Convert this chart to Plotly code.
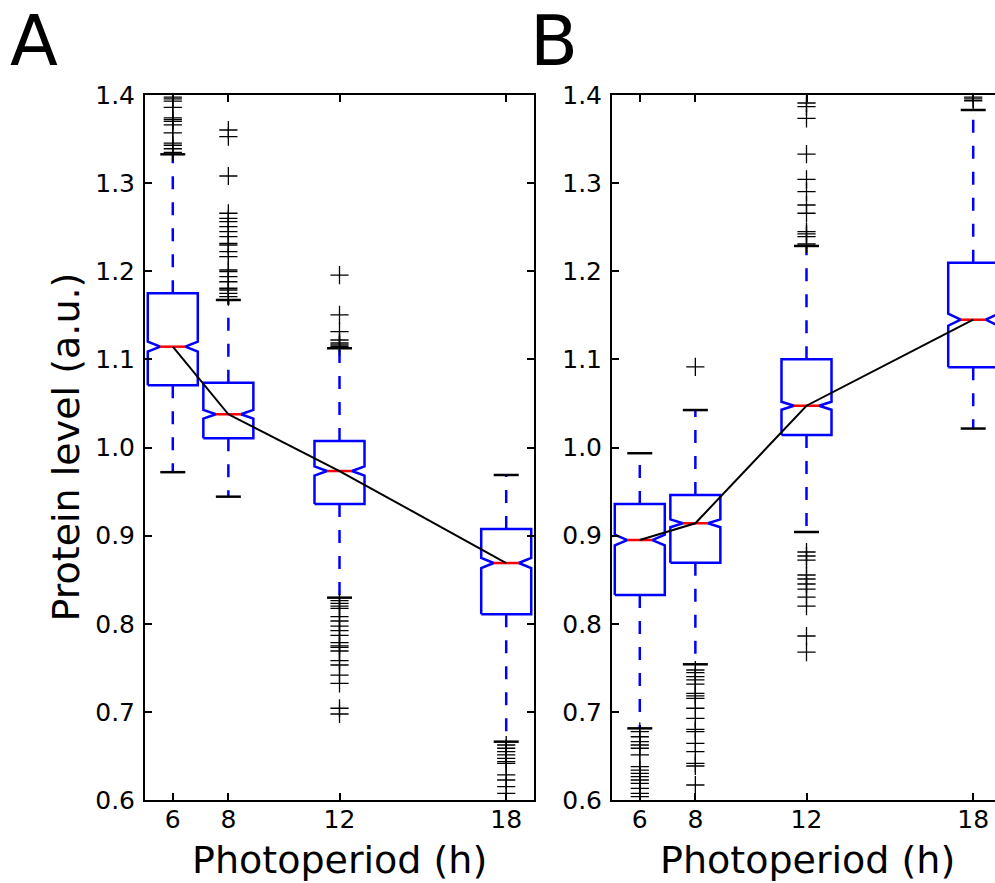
import plotly.graph_objects as go

# ---------------- data ----------------
positions = [6, 8, 12, 18]
tick_labels_x = ["6", "8", "12", "18"]
y_ticks = [0.6, 0.7, 0.8, 0.9, 1.0, 1.1, 1.2, 1.3, 1.4]

# Panel A
a_q1 = [1.0706, 1.0104, 0.9359, 0.8107]
a_median = [1.1144, 1.0377, 0.9733, 0.8689]
a_q3 = [1.1750, 1.0735, 1.0074, 0.9075]
a_whisker_low = [0.9720, 0.9442, 0.8296, 0.6662]
a_whisker_high = [1.3327, 1.1674, 1.1126, 0.9688]
a_notch = [0.0057, 0.0050, 0.0052, 0.0057]
a_fliers_6 = [1.3977, 1.3955, 1.3930, 1.3860, 1.3740, 1.3720, 1.3700, 1.3660, 1.3570,
              1.3455, 1.3430, 1.3390, 1.3350]
a_fliers_8 = [1.3603, 1.3527, 1.3081, 1.2658, 1.2601, 1.2562, 1.2506, 1.2449, 1.2392,
              1.2317, 1.2298, 1.2222, 1.2165, 1.2014, 1.1995, 1.1938, 1.1881, 1.1807,
              1.1787, 1.1750, 1.1711]
a_fliers_12 = [1.1957, 1.1504, 1.1314, 1.1220, 1.1186, 1.1163, 1.1144,
               0.8262, 0.8232, 0.8201, 0.8175, 0.8080, 0.8031, 0.7974, 0.7921, 0.7869,
               0.7785, 0.7748, 0.7733, 0.7691, 0.7581, 0.7532, 0.7418, 0.7324, 0.7041,
               0.6976]
a_fliers_18 = [0.6624, 0.6587, 0.6548, 0.6511, 0.6473, 0.6435, 0.6416, 0.6284, 0.6227,
               0.6151, 0.6076]

# Panel B
b_q1 = [0.8326, 0.8693, 1.0142, 1.0910]
b_median = [0.8950, 0.9140, 1.0474, 1.1450]
b_q3 = [0.9359, 0.9461, 1.1000, 1.2097]
b_whisker_low = [0.6813, 0.7540, 0.9041, 1.0215]
b_whisker_high = [0.9935, 1.0425, 1.2287, 1.3830]
b_notch = [0.0060, 0.0045, 0.0045, 0.0068]
b_fliers_6 = [0.6775, 0.6718, 0.6662, 0.6624, 0.6587, 0.6511, 0.6378, 0.6340, 0.6303,
              0.6265, 0.6227, 0.6189, 0.6133, 0.6076, 0.6038]
b_fliers_8 = [1.0914,
              0.7475, 0.7445, 0.7399, 0.7362, 0.7316, 0.7211, 0.7181, 0.7154, 0.7041,
              0.6927, 0.6802, 0.6775, 0.6643, 0.6548, 0.6416, 0.6386, 0.6170]
b_fliers_12 = [1.3909, 1.3867, 1.3735, 1.3330, 1.3043, 1.2903, 1.2752, 1.2658, 1.2449,
               1.2423, 1.2392, 1.2309,
               0.8814, 0.8769, 0.8723, 0.8553, 0.8508, 0.8451, 0.8394, 0.8303, 0.8201,
               0.7861, 0.7679]
b_fliers_18 = [1.3975, 1.3955, 1.3935]

BOX_WIDTH = 1.8
W, H = 995, 883
BLUE = "#0000FF"
RED = "#FF0000"
FONT = "DejaVu Sans"


def add_panel(fig, xa, ya, q1, med, q3, wlo, whi, notch, fliers):
    bx, by = [], []
    wx, wy = [], []
    cx, cy = [], []
    mx, my = [], []
    for p, a, m, b, lo, hi, n in zip(positions, q1, med, q3, wlo, whi, notch):
        l, r = p - BOX_WIDTH / 2, p + BOX_WIDTH / 2
        il, ir = p - BOX_WIDTH / 4, p + BOX_WIDTH / 4
        bx += [l, r, r, ir, r, r, l, l, il, l, l, None]
        by += [a, a, m - n, m, m + n, b, b, m + n, m, m - n, a, None]
        wx += [p, p, None, p, p, None]
        wy += [b, hi, None, a, lo, None]
        cx += [il, ir, None, il, ir, None]
        cy += [hi, hi, None, lo, lo, None]
        mx += [il, ir, None]
        my += [m, m, None]
    common = dict(xaxis=xa, yaxis=ya, showlegend=False, hoverinfo="skip")
    fig.add_trace(go.Scatter(x=wx, y=wy, mode="lines",
                             line=dict(color=BLUE, width=2.5, dash="13px,13px"), **common))
    fig.add_trace(go.Scatter(x=bx, y=by, mode="lines",
                             line=dict(color=BLUE, width=2.5), **common))
    fig.add_trace(go.Scatter(x=mx, y=my, mode="lines",
                             line=dict(color=RED, width=2.5), **common))
    fig.add_trace(go.Scatter(x=cx, y=cy, mode="lines",
                             line=dict(color="black", width=2.5), **common))
    fig.add_trace(go.Scatter(x=positions, y=med, mode="lines",
                             line=dict(color="black", width=2), **common))
    fx, fy = [], []
    for p, vals in zip(positions, fliers):
        fx += [p] * len(vals)
        fy += vals
    fig.add_trace(go.Scatter(x=fx, y=fy, mode="markers",
                             marker=dict(symbol="cross-thin", size=13,
                                         line=dict(color="black", width=1.3)),
                             **common))


fig = go.Figure()
add_panel(fig, "x", "y", a_q1, a_median, a_q3, a_whisker_low, a_whisker_high, a_notch,
          [a_fliers_6, a_fliers_8, a_fliers_12, a_fliers_18])
add_panel(fig, "x2", "y2", b_q1, b_median, b_q3, b_whisker_low, b_whisker_high, b_notch,
          [b_fliers_6, b_fliers_8, b_fliers_12, b_fliers_18])

ydom = [(H - 800) / H, (H - 95) / H]
axis_common = dict(showline=True, linecolor="black", linewidth=2, ticks="inside",
                   ticklen=7, tickwidth=1.5, tickcolor="black", showgrid=False,
                   zeroline=False, automargin=False,
                   tickfont=dict(family=FONT, size=25, color="black"))
xcommon = dict(axis_common, tickvals=positions, ticktext=tick_labels_x, ticklabelstandoff=-4)
ycommon = dict(axis_common, tickvals=y_ticks, tickformat=".1f", range=[0.6, 1.4],
               domain=ydom, ticklabelstandoff=3)

px_per_unit = (534 - 145) / 14.0
fig.update_layout(
    width=W, height=H,
    margin=dict(l=0, r=0, t=0, b=0),
    paper_bgcolor="white", plot_bgcolor="white",
    xaxis=dict(xcommon, domain=[145 / W, 534 / W], range=[5, 19], anchor="y",
               mirror="allticks"),
    yaxis=dict(ycommon, anchor="x", mirror="allticks"),
    xaxis2=dict(xcommon, domain=[612 / W, 1.0],
                range=[5, 5 + (W - 612) / px_per_unit], anchor="y2", mirror="allticks"),
    yaxis2=dict(ycommon, anchor="x2", mirror=False),
    yaxis3=dict(axis_common, overlaying="y2", side="right", anchor="x2",
                showline=False, ticklen=3, showticklabels=False,
                tickvals=y_ticks, range=[0.6, 1.4]),
)

ann_font_big = dict(family=FONT, size=70, color="black")
ann_font_title = dict(family=FONT, size=38, color="black")
fig.add_annotation(text="A", x=8 / W, y=1 - 41 / H, xref="paper", yref="paper",
                   xanchor="left", yanchor="middle", showarrow=False, font=ann_font_big)
fig.add_annotation(text="B", x=528 / W, y=1 - 41 / H, xref="paper", yref="paper",
                   xanchor="left", yanchor="middle", showarrow=False, font=ann_font_big)
fig.add_annotation(text="Photoperiod (h)", x=339.5 / W, y=1 - 860 / H, xref="paper",
                   yref="paper", xanchor="center", yanchor="middle", showarrow=False,
                   font=ann_font_title)
fig.add_annotation(text="Photoperiod (h)", x=807 / W, y=1 - 860 / H, xref="paper",
                   yref="paper", xanchor="center", yanchor="middle", showarrow=False,
                   font=ann_font_title)
fig.add_annotation(text="Protein level (a.u.)", x=65 / W, y=1 - 447.5 / H, xref="paper",
                   yref="paper", xanchor="center", yanchor="middle", textangle=-90,
                   showarrow=False, font=ann_font_title)

fig.write_html("out.html")
